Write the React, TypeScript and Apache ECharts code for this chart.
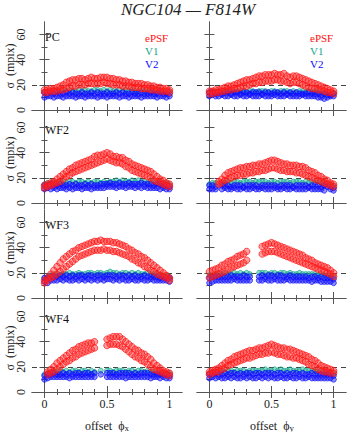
import React, { useEffect, useRef } from 'react';
import * as echarts from 'echarts';

// ---------- data ----------
const X = [0,0.025,0.05,0.075,0.1,0.125,0.15,0.175,0.2,0.225,0.25,0.275,0.3,0.325,0.35,0.375,0.4,0.425,0.45,0.475,0.5,0.525,0.55,0.575,0.6,0.625,0.65,0.675,0.7,0.725,0.75,0.775,0.8,0.825,0.85,0.875,0.9,0.925,0.95,0.975,1];
const X_MAJOR = [0, 0.5, 1];
const X_MINOR = [0.1, 0.2, 0.3, 0.4, 0.6, 0.7, 0.8, 0.9];
const Y_MAJOR = [0, 20, 40, 60];
const Y_MINOR = [10, 30, 50];
const CHIPS = ['PC', 'WF2', 'WF3', 'WF4'];
const SERIES_NAMES = ['ePSF', 'V1', 'V2'];
const REF_LEVEL = 20;

// PC, offset phi_x
const PC_X_RED_HI = [16,16,17,17,18,19,20,22,23,24, 24,25,25,24,25,26,25,25,26,26, 26,25,25,24,24,23,23,22,22,21, 21,21,20,20,19,19,18,18,17,17, 16];
const PC_X_RED_LO = [14,14,15,15,15,16,16,17,18,19, 19,20,20,20,21,21,21,21,21,22, 21,21,20,20,20,19,19,19,18,18, 18,17,17,17,16,16,16,15,15,15, 14];
const PC_X_V1 = [14,15,15,16,15,15,16,15,16,15, 15,16,15,16,15,15,16,16,15,16, 15,16,15,15,16,15,16,15,16,15, 15,16,15,16,15,15,16,15,15,14, 15];
const PC_X_V2_HI = [14,13,14,13,14,13,13,14,13,14, 13,13,14,13,13,14,13,14,13,13, 14,13,13,14,13,14,13,13,14,13, 13,14,13,13,14,13,13,14,13,13, 13];
const PC_X_V2_LO = [10,11,11,10,11,11,10,11,11,11, 10,11,11,10,11,11,11,10,11,11, 10,11,11,11,10,11,11,10,11,11, 11,10,11,11,11,11,10,11,11,10, 11];

// PC, offset phi_y
const PC_Y_RED_HI = [15,15,16,16,17,18,19,19,20,21, 22,23,24,24,25,26,27,27,28,28, 28,29,28,28,29,27,26,27,27,26, 25,24,23,22,21,20,19,18,17,16, 15];
const PC_Y_RED_LO = [13,13,14,14,15,15,16,16,17,17, 18,19,19,20,21,21,22,22,23,23, 23,24,24,23,23,22,21,22,22,21, 20,19,18,17,17,16,16,15,14,14, 13];
const PC_Y_V1 = [14,15,14,15,15,14,15,15,14,15, 15,15,14,15,15,14,15,15,15,14, 15,15,14,15,15,15,14,15,14,15, 15,14,15,14,15,15,14,14,13,13, 13];
const PC_Y_V2_HI = [14,14,13,14,13,14,14,13,14,14, 13,14,14,13,14,14,14,13,14,14, 13,14,14,13,14,13,14,13,14,13, 13,13,14,13,13,13,12,13,12,12, 13];
const PC_Y_V2_LO = [11,12,11,11,12,11,11,12,11,11, 12,11,11,12,11,11,11,12,11,11, 11,12,11,11,11,12,11,11,11,11, 12,11,11,11,11,10,10,9,10,11, 11];

// WF2, offset phi_x
const WF2_X_RED_HI = [14,15,16,17,19,21,23,25,27,28, 30,31,32,33,34,35,37,38,38,39, 40,39,37,37,36,36,34,33,31,30, 29,28,27,26,25,23,21,19,18,16, 15];
const WF2_X_RED_LO = [12,13,14,15,16,17,19,21,22,24, 25,26,27,28,29,30,31,32,33,34, 35,34,33,32,32,31,29,28,26,25, 24,23,22,21,20,18,17,16,15,14, 13];
const WF2_X_V1 = [15,16,16,17,16,17,17,16,17,17, 16,17,17,16,17,16,17,17,16,17, 16,17,17,18,17,18,17,17,18,17, 18,17,17,16,17,17,16,17,16,16, 15];
const WF2_X_V2_HI = [14,14,15,14,14,15,14,14,15,14, 15,14,14,15,14,15,14,14,15,15, 15,16,15,15,16,15,15,16,15,15, 15,16,15,15,15,14,15,15,14,14, 13];
const WF2_X_V2_LO = [11,12,11,12,11,12,12,11,12,11, 12,12,11,12,12,11,12,12,12,12, 13,13,13,12,13,13,12,13,13,12, 13,12,13,12,12,12,12,11,12,11, 11];

// WF2, offset phi_y
const WF2_Y_RED_HI = [null,null,null,17,19,22,24,25,26,27, 28,28,29,29,30,30,31,31,32,33, 34,34,33,32,31,31,30,30,30,29, 29,28,26,25,24,22,21,19,18,16, 15];
const WF2_Y_RED_LO = [null,null,null,15,16,18,19,20,21,22, 22,23,23,24,24,25,25,26,26,27, 28,28,27,26,26,25,25,25,24,24, 23,22,21,20,19,18,17,16,15,14, 13];
const WF2_Y_V1 = [15,16,16,null,16,16,17,16,17,17, 16,17,17,17,16,17,17,17,17,16, 17,17,16,17,17,17,16,17,17,17, 16,17,16,17,16,17,16,16,15,15, 14];
const WF2_Y_V2_HI = [14,14,13,null,14,14,14,13,14,14, 14,13,14,14,14,14,13,14,14,14, 14,14,13,14,14,14,14,13,14,14, 14,14,13,14,14,14,13,14,13,13, 12];
const WF2_Y_V2_LO = [11,11,11,null,11,12,11,11,12,11, 11,12,11,11,12,11,11,12,11,11, 11,12,11,11,12,11,11,12,11,11, 11,11,12,11,11,11,11,10,null,11, 10];

// WF3, offset phi_x
const WF3_X_RED_HI = [14,16,19,22,25,28,31,33,35,37, 38,40,41,42,43,44,45,45,46,45, 45,45,44,44,43,42,41,39,38,36, 35,33,32,30,28,26,24,22,20,18, 16];
const WF3_X_RED_LO = [12,14,16,17,19,21,23,25,27,29, 31,33,34,35,36,37,38,38,38,39, 38,38,37,37,36,35,34,33,31,30, 28,27,25,24,22,21,19,18,17,16, 14];
const WF3_X_V1 = [16,17,18,19,19,18,19,19,20,19, 19,20,19,19,20,20,19,20,20,19, 20,21,20,20,19,20,20,19,20,19, 20,19,19,20,19,19,19,18,18,18, 17];
const WF3_X_V2_HI = [16,16,17,17,17,18,17,18,17,18, 17,18,18,17,18,18,17,18,18,17, 18,18,18,17,18,18,17,18,17,18, 17,17,18,17,17,17,17,16,17,16, 16];
const WF3_X_V2_LO = [13,12,14,14,14,15,14,15,14,14, 15,14,15,14,15,14,15,14,15,14, 15,15,14,15,14,15,14,14,15,14, 14,15,14,14,15,14,14,14,14,14, 13];

// WF3, offset phi_y
const WF3_Y_RED_HI = [21,22,23,24,26,27,29,30,31,33, 34,35,37,null,null,null,null,41,42,43, 44,43,42,41,40,39,38,37,36,35, 34,32,31,30,28,27,26,25,24,22, 20];
const WF3_Y_RED_LO = [16,17,18,19,20,21,23,24,25,26, 27,28,30,null,null,null,null,35,36,37, 37,37,36,35,34,33,32,31,30,29, 28,27,26,25,24,23,22,21,20,19, 17];
const WF3_Y_V1 = [18,18,19,19,19,20,19,19,20,19, 20,19,20,19,null,null,20,20,20,19, 20,20,19,20,20,19,20,19,19,20, 19,19,19,19,19,18,19,18,18,18, 17];
const WF3_Y_V2_HI = [16,17,17,17,17,17,17,18,17,17, 17,18,17,17,null,null,17,18,17,18, 18,17,18,18,17,17,18,17,17,17, 17,17,16,17,17,16,17,16,16,16, 15];
const WF3_Y_V2_LO = [12,13,14,14,14,14,14,14,15,14, 14,14,14,14,null,null,14,14,15,14, 14,15,14,14,14,15,14,14,14,14, 14,14,14,13,14,14,13,13,13,13, 12];

// WF4, offset phi_x
const WF4_X_RED_HI = [null,16,18,20,23,25,27,29,31,33, 34,36,37,38,39,39,40,null,null,null, 42,43,44,44,44,42,40,38,36,34, 33,31,30,28,26,23,21,19,17,16, 15];
const WF4_X_RED_LO = [null,14,15,16,18,20,22,24,25,27, 28,30,31,32,33,34,35,null,null,null, 37,38,38,38,37,36,34,32,30,28, 27,25,24,22,20,18,17,16,15,14, 13];
const WF4_X_V1 = [14,15,16,16,16,17,16,17,16,17, 17,16,17,17,16,17,16,null,17,null, 17,17,16,17,17,17,16,17,17,16, 17,17,16,17,16,16,16,15,16,15, 15];
const WF4_X_V2_HI = [13,14,14,15,14,14,15,14,15,14, 15,15,14,15,15,14,15,null,14,null, 15,15,15,14,15,15,15,15,14,15, 14,15,15,15,14,14,14,14,14,14, 13];
const WF4_X_V2_LO = [10,11,12,12,12,12,12,12,11,12, 12,12,12,12,12,12,12,null,null,null, 12,12,12,12,12,12,11,12,12,12, 12,12,12,12,11,12,12,11,12,11, 11];

// WF4, offset phi_y
const WF4_Y_RED_HI = [16,17,18,19,21,23,25,26,28,29, 30,31,32,33,33,34,35,35,36,37, 38,37,36,35,35,34,34,33,32,31, 30,29,28,26,25,23,21,20,19,18, 17];
const WF4_Y_RED_LO = [14,15,16,16,18,19,21,22,23,24, 25,26,27,27,28,29,30,30,31,31, 32,31,30,30,29,28,28,27,27,26, 25,24,22,21,20,18,17,16,16,15, 15];
const WF4_Y_V1 = [15,16,16,16,17,16,17,17,16,17, 17,17,16,17,17,17,17,17,18,17, 17,18,17,18,17,17,18,17,17,17, 18,17,17,17,17,16,17,16,16,16, 15];
const WF4_Y_V2_HI = [14,14,15,14,14,15,14,15,15,14, 15,14,15,15,14,15,15,14,15,15, 15,14,15,15,14,15,14,15,15,14, 15,14,14,15,14,14,14,14,14,14, 13];
const WF4_Y_V2_LO = [11,12,11,12,11,11,12,11,12,11, 11,12,11,12,11,11,12,11,12,11, 12,11,11,12,11,11,12,11,11,12, 11,11,12,11,11,11,11,11,11,11, 10];

const PANELS = [
  { row: 0, col: 0, red: [PC_X_RED_HI, PC_X_RED_LO], v1: [PC_X_V1], v2: [PC_X_V2_HI, PC_X_V2_LO] },
  { row: 0, col: 1, red: [PC_Y_RED_HI, PC_Y_RED_LO], v1: [PC_Y_V1], v2: [PC_Y_V2_HI, PC_Y_V2_LO] },
  { row: 1, col: 0, red: [WF2_X_RED_HI, WF2_X_RED_LO], v1: [WF2_X_V1], v2: [WF2_X_V2_HI, WF2_X_V2_LO] },
  { row: 1, col: 1, red: [WF2_Y_RED_HI, WF2_Y_RED_LO], v1: [WF2_Y_V1], v2: [WF2_Y_V2_HI, WF2_Y_V2_LO] },
  { row: 2, col: 0, red: [WF3_X_RED_HI, WF3_X_RED_LO], v1: [WF3_X_V1], v2: [WF3_X_V2_HI, WF3_X_V2_LO] },
  { row: 2, col: 1, red: [WF3_Y_RED_HI, WF3_Y_RED_LO], v1: [WF3_Y_V1], v2: [WF3_Y_V2_HI, WF3_Y_V2_LO] },
  { row: 3, col: 0, red: [WF4_X_RED_HI, WF4_X_RED_LO], v1: [WF4_X_V1], v2: [WF4_X_V2_HI, WF4_X_V2_LO] },
  { row: 3, col: 1, red: [WF4_Y_RED_HI, WF4_Y_RED_LO], v1: [WF4_Y_V1], v2: [WF4_Y_V2_HI, WF4_Y_V2_LO] },
];

// ---------- layout / style ----------
const COL_LEFT = [32, 197];
const COL_WIDTH = 150;
const ROW_TOP = [22, 115, 210, 304];
const ROW_HEIGHT = 88;
const FONT = "'Liberation Serif', 'DejaVu Serif', serif";
const FRAME = '#555';
const COLORS = { red: '#ff1010', v1: '#14a88a', v2: '#0a0aff' };
const FILLS = { red: 'rgba(255,40,40,0.55)', v1: 'rgba(20,168,138,0.55)', v2: 'rgba(20,20,255,0.6)' };
const SIZES = { red: 6.5, v1: 5, v2: 5.5 };

function pts(arr: (number | null)[]) {
  const out: number[][] = [];
  arr.forEach((y, i) => { if (y !== null) out.push([X[i], y]); });
  return out;
}

function buildOption() {
  const grid: any[] = [];
  const xAxis: any[] = [];
  const yAxis: any[] = [];
  const series: any[] = [];
  const graphic: any[] = [];

  PANELS.forEach((p, g) => {
    grid.push({ left: COL_LEFT[p.col], top: ROW_TOP[p.row], width: p.col === 0 ? COL_WIDTH : COL_WIDTH - 1, height: ROW_HEIGHT, outerBoundsMode: 'none', show: false });
    const bottomRow = p.row === 3;
    const leftCol = p.col === 0;
    const xb = { type: 'value', gridIndex: g, min: -0.1, max: 1.1, splitLine: { show: false } };
    const tick = (vals: number[], len: number) => ({ show: true, inside: true, length: len, customValues: vals, lineStyle: { color: FRAME, width: 1 } });
    xAxis.push({ ...xb, position: 'bottom', axisLine: { show: true, lineStyle: { color: FRAME, width: 1 } }, axisTick: tick(X_MINOR, 3),
      axisLabel: bottomRow ? { show: true, customValues: X_MAJOR, formatter: (v: number) => (v === 0.5 ? '0.5' : String(v)), fontFamily: FONT, fontSize: 12, color: '#222', margin: 6 } : { show: false } });
    xAxis.push({ ...xb, position: 'bottom', axisLine: { show: false }, axisTick: tick(X_MAJOR, 6), axisLabel: { show: false } });
    xAxis.push({ ...xb, position: 'top', axisLine: { show: true, lineStyle: { color: FRAME, width: 1 } }, axisTick: tick(X_MINOR, 3), axisLabel: { show: false } });
    xAxis.push({ ...xb, position: 'top', axisLine: { show: false }, axisTick: tick(X_MAJOR, 6), axisLabel: { show: false } });

    const yb = { type: 'value', gridIndex: g, min: 0, max: 70, splitLine: { show: false } };
    yAxis.push({ ...yb, position: 'left', axisLine: { show: true, lineStyle: { color: FRAME, width: 1 } }, axisTick: tick(Y_MINOR, 3),
      axisLabel: leftCol ? { show: true, customValues: Y_MAJOR, rotate: 90, fontFamily: FONT, fontSize: 12, color: '#222', margin: 5 } : { show: false },
      name: leftCol ? 'σ  (mpix)' : '', nameLocation: 'middle', nameRotate: 90, nameGap: 16, nameMoveOverlap: false,
      nameTextStyle: { fontFamily: FONT, fontSize: 12, color: '#222' } });
    yAxis.push({ ...yb, position: 'left', axisLine: { show: false }, axisTick: tick(Y_MAJOR, 5), axisLabel: { show: false } });
    yAxis.push({ ...yb, position: 'right', axisLine: { show: true, lineStyle: { color: FRAME, width: 1 } }, axisTick: tick(Y_MINOR, 3), axisLabel: { show: false } });
    yAxis.push({ ...yb, position: 'right', axisLine: { show: false }, axisTick: tick(Y_MAJOR, 5), axisLabel: { show: false } });

    const sc = (arr: (number | null)[], key: 'red' | 'v1' | 'v2', name: string, extra: any = {}) => ({
      type: 'scatter', name, xAxisIndex: g * 4, yAxisIndex: g * 4, data: pts(arr),
      symbol: 'circle', symbolSize: SIZES[key], silent: true,
      itemStyle: { color: FILLS[key], borderColor: COLORS[key], borderWidth: 0.9 },
      emphasis: { disabled: true }, ...extra,
    });
    p.v1.forEach((arr, k) => series.push(sc(arr, 'v1', SERIES_NAMES[1], k === 0 ? {
      markLine: { z: 1, silent: true, symbol: ['none', 'none'], label: { show: false },
        lineStyle: { type: [5, 4], color: '#444', width: 1 }, data: [{ yAxis: REF_LEVEL }] },
    } : {})));
    p.v2.forEach((arr) => series.push(sc(arr, 'v2', SERIES_NAMES[2])));
    p.red.forEach((arr) => series.push(sc(arr, 'red', SERIES_NAMES[0])));

    if (leftCol) {
      graphic.push({ type: 'text', x: COL_LEFT[0] + 13, y: ROW_TOP[p.row] + 15,
        style: { text: CHIPS[p.row], font: `12px ${FONT}`, fill: '#111', align: 'left', verticalAlign: 'middle' } });
    }
    if (p.row === 0) {
      const cols = [COLORS.red, COLORS.v1, COLORS.v2];
      const ys = [38, 51, 64];
      SERIES_NAMES.forEach((n, k) => graphic.push({ type: 'text', x: COL_LEFT[p.col] + 113, y: ys[k],
        style: { text: n, font: `11px ${FONT}`, fill: cols[k], align: 'left', verticalAlign: 'middle' } }));
    }
    if (bottomRow) {
      graphic.push({ type: 'text', x: COL_LEFT[p.col] + 75, y: 423,
        style: { text: `{a|offset  ϕ}{b|${leftCol ? 'x' : 'y'}}`, align: 'center', verticalAlign: 'middle',
          rich: { a: { fontFamily: FONT, fontSize: 12, fill: '#222', lineHeight: 18, verticalAlign: 'bottom' },
                  b: { fontFamily: FONT, fontSize: 9, fill: '#222', lineHeight: 9, verticalAlign: 'bottom' } } } });
    }
  });

  graphic.push({ type: 'text', x: 188, y: 9,
    style: { text: 'NGC104 — F814W', font: `italic 17px ${FONT}`, fill: '#222', align: 'center', verticalAlign: 'middle' } });

  return { animation: false, backgroundColor: '#fff', grid, xAxis, yAxis, series, graphic };
}

export default function App() {
  const ref = useRef<HTMLDivElement>(null);
  useEffect(() => {
    const chart = echarts.init(ref.current as HTMLDivElement, undefined, { renderer: 'svg' });
    chart.setOption(buildOption() as any);
    return () => chart.dispose();
  }, []);
  return <div ref={ref} style={{ position: 'absolute', left: 0, top: 0, width: 348, height: 432 }} />;
}
